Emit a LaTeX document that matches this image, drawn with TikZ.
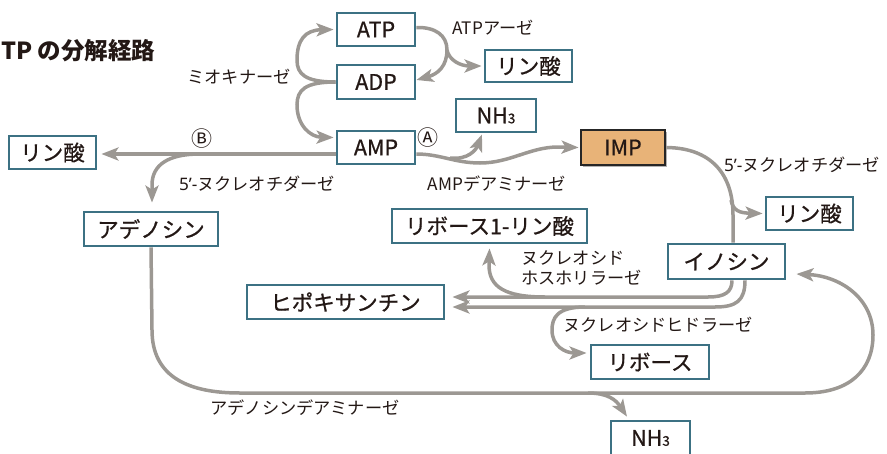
\documentclass[tikz,border=0pt]{standalone}
\usepackage{fontspec}
\setmainfont{Noto Sans CJK JP}
\newfontfamily\lat{Noto Sans}
\newfontfamily\boxfont[FakeBold=0.8]{Noto Sans CJK JP}
\usetikzlibrary{arrows.meta,calc,shadows}
\definecolor{boxc}{HTML}{3C7183}
\definecolor{arrc}{HTML}{9C9893}
\definecolor{impc}{HTML}{E8B378}
\definecolor{txt}{HTML}{231815}
\tikzset{
  cbox/.style={draw=boxc, line width=2.8pt, fill=white, inner sep=0pt, text=txt,
    font=\boxfont\fontsize{21.5}{21.5}\selectfont},
  impbox/.style={draw=black!85, line width=2.8pt, fill=impc, inner sep=0pt, text=txt,
    font=\boxfont\fontsize{21.5}{21.5}\selectfont,
    drop shadow={shadow xshift=2pt,shadow yshift=-2pt,fill=black,opacity=0.3}},
  lbl/.style={text=txt, inner sep=0pt, font=\fontsize{17.2}{20.5}\selectfont},
  circ/.style={text=txt, inner sep=0pt, font=\fontsize{21}{21}\selectfont},
  lineA/.style={draw=arrc, line width=3.5pt},
  arr/.style={lineA, -{Stealth[length=17pt,width=13pt,inset=4pt]}},
}
\newcommand{\nhthree}{NH{\fontsize{13.5}{13.5}\selectfont 3}}
\begin{document}
\begin{tikzpicture}[x=1pt,y=-1pt]
\useasboundingbox (0,0) rectangle (887,453);
% title
\node[anchor=west, inner sep=0pt, text=txt, font=\bfseries\fontsize{23.5}{23.5}\selectfont] (title) at (1,51) {TP の分解経路};
% boxes
\node[cbox, minimum width=78pt, minimum height=33pt] (atp) at (376,29.5) {ATP};
\node[cbox, minimum width=78pt, minimum height=34pt] (adp) at (376,82) {ADP};
\node[cbox, minimum width=78pt, minimum height=33pt] (amp) at (376,147.5) {AMP};
\node[cbox, minimum width=87pt, minimum height=32pt] (rinA) at (528.5,66) {リン酸};
\node[cbox, minimum width=80pt, minimum height=33pt] (nh3a) at (496,115.5) {\nhthree};
\node[impbox, minimum width=84pt, minimum height=35pt] (imp) at (623,147.5) {IMP};
\node[cbox, minimum width=87pt, minimum height=33pt] (rinL) at (52.5,152.5) {リン酸};
\node[cbox, minimum width=134pt, minimum height=34pt] (aden) at (151,229) {アデノシン};
\node[cbox, minimum width=195pt, minimum height=34pt] (r1p) at (489.5,226) {リボース1-リン酸};
\node[cbox, minimum width=87pt, minimum height=33pt] (rinR) at (809.5,213.5) {リン酸};
\node[cbox, minimum width=117pt, minimum height=35pt] (ino) at (726.5,261.5) {イノシン};
\node[cbox, minimum width=197pt, minimum height=34pt] (hypo) at (345.5,302) {ヒポキサンチン};
\node[cbox, minimum width=118pt, minimum height=34pt] (ribose) at (650,362) {リボース};
\node[cbox, minimum width=79pt, minimum height=34pt] (nh3b) at (650.5,438) {\nhthree};
% labels
\node[lbl] (lmyo) at (239,77) {ミオキナーゼ};
\node[lbl] (latpase) at (493,28) {ATPアーゼ};
\node[circ] (lB) at (202,139) {Ⓑ};
\node[circ] (lA) at (428,138) {Ⓐ};
\node[lbl] (l5a) at (257,184) {{\lat 5’-}ヌクレオチダーゼ};
\node[lbl] (lampd) at (497,184) {AMPデアミナーゼ};
\node[lbl] (l5b) at (802,165) {{\lat 5’-}ヌクレオチダーゼ};
\node[lbl, anchor=west, align=left] (lnp) at (521,268) {ヌクレオシド\\ホスホリラーゼ};
\node[lbl] (lnh) at (658,325) {ヌクレオシドヒドラーゼ};
\node[lbl] (lad) at (305,408) {アデノシンデアミナーゼ};
% connectors
% myokinase
\draw[arr] (adp.west) .. controls (305,82) and (297,74) .. (297,60)
  .. controls (297,40) and (305,30) .. ([xshift=-2pt]atp.west);
\draw[arr] (adp.west) .. controls (305,82) and (297,90) .. (297,105)
  .. controls (297,125) and (310,137) .. ([xshift=-2pt,yshift=10pt]amp.west);
% ATPase
\coordinate (atpsplit) at (447,50);
\draw[lineA] ([yshift=2pt]atp.east) .. controls (435,27) and (447,35) .. (atpsplit);
\draw[arr] (atpsplit) .. controls (449,60) and (460,66) .. ([xshift=-2pt]rinA.west);
\draw[arr] (atpsplit) .. controls (447,66) and (438,74) .. ([yshift=2pt]adp.east);
% B : AMP -> phosphate, AMP -> adenosine
\coordinate (bsplit) at (200,154);
\draw[arr, shorten >=4pt] ([yshift=-6.5pt]amp.west) -- ([yshift=-1.5pt]rinL.east);
\draw[arr] (bsplit) .. controls (168,154) and (152,165) .. (152,185) -- ([xshift=1pt,yshift=8pt]aden.north);
% A : AMP -> IMP, AMP -> NH3
\coordinate (asplit) at (450,158);
\draw[arr] ([yshift=-6.5pt]amp.east) .. controls (440,154) and (455,163) .. (480,163)
  .. controls (510,163) and (530,147) .. (558,147) -- ([xshift=-1pt]imp.west);
\draw[arr] (asplit) .. controls (468,160) and (476,150) .. ([xshift=-14pt,yshift=-1pt]nh3a.south);
% IMP -> inosine, phosphate
\coordinate (isplit) at (731,200);
\draw[lineA] (imp.east) .. controls (712,148) and (733,175) .. (733,215) -- ([xshift=6.5pt]ino.north);
\draw[arr] (isplit) .. controls (733,211) and (740,213) .. ([xshift=-2pt]rinR.west);
% inosine -> hypoxanthine
\coordinate (hsplit1) at (545,297);
\coordinate (hsplit2) at (585,307);
\draw[arr, shorten >=7pt] ([xshift=5.5pt]ino.south) .. controls (732,292) and (725,297) .. (708,297) -- ([yshift=5pt]hypo.east);
\draw[arr, shorten >=7pt] ([xshift=18.5pt]ino.south) .. controls (745,301) and (736,307) .. (715,307) -- ([yshift=-5pt]hypo.east);
\draw[arr] (hsplit1) .. controls (505,297) and (489,287) .. (489,265) -- ([yshift=-4pt]r1p.south);
\draw[arr] (hsplit2) .. controls (557,307) and (552,318) .. (552,330)
  .. controls (552,346) and (565,353) .. ([xshift=-3pt,yshift=9pt]ribose.west);
% adenosine -> inosine, NH3
\coordinate (nsplit) at (588,393);
\draw[arr] (aden.south) -- (152,330) .. controls (152,378) and (190,393) .. (240,393)
  -- (805,393) .. controls (850,393) and (873,370) .. (873,335)
  .. controls (873,298) and (840,276) .. ([xshift=10pt,yshift=-12.5pt]ino.east);
\draw[arr] (nsplit) .. controls (608,393) and (616,400) .. ([xshift=-23.5pt,yshift=3pt]nh3b.north);
\end{tikzpicture}
\end{document}
